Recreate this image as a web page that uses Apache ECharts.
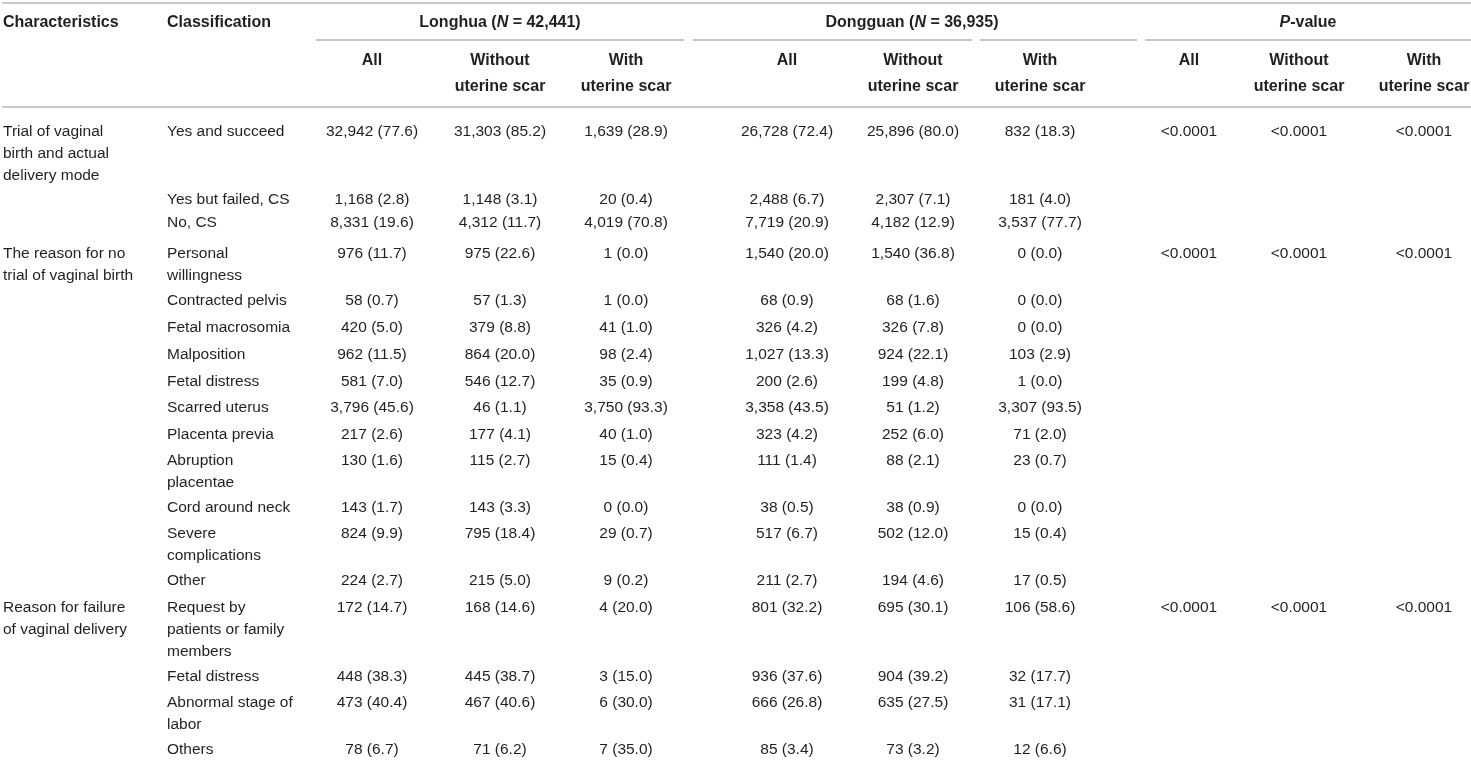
<!DOCTYPE html>
<html>
<head>
<meta charset="utf-8">
<script src="https://cdn.jsdelivr.net/npm/echarts@6/dist/echarts.min.js"></script>
<style>
html,body{margin:0;padding:0;background:#fff;}
#chart{width:1471px;height:760px;}
</style>
</head>
<body>
<div id="chart"></div>
<script>
// ---------- DATA ----------
const columnHeaders = ['Characteristics', 'Classification'];
const groupNames = ['Longhua', 'Dongguan', 'P-value'];
const groupN = ['42,441', '36,935'];
const subHeaders = ['All', 'Without\nuterine scar', 'With\nuterine scar'];

const characteristics = [
  'Trial of vaginal\nbirth and actual\ndelivery mode',
  'The reason for no\ntrial of vaginal birth',
  'Reason for failure\nof vaginal delivery'
];
const characteristicFirstRow = [0, 3, 14];

const classifications = [
  'Yes and succeed', 'Yes but failed, CS', 'No, CS',
  'Personal\nwillingness', 'Contracted pelvis', 'Fetal macrosomia', 'Malposition',
  'Fetal distress', 'Scarred uterus', 'Placenta previa', 'Abruption\nplacentae',
  'Cord around neck', 'Severe\ncomplications', 'Other',
  'Request by\npatients or family\nmembers', 'Fetal distress',
  'Abnormal stage of\nlabor', 'Others'
];

const longhuaAllN = [32942, 1168, 8331, 976, 58, 420, 962, 581, 3796, 217, 130, 143, 824, 224, 172, 448, 473, 78];
const longhuaAllPct = [77.6, 2.8, 19.6, 11.7, 0.7, 5.0, 11.5, 7.0, 45.6, 2.6, 1.6, 1.7, 9.9, 2.7, 14.7, 38.3, 40.4, 6.7];
const longhuaWithoutN = [31303, 1148, 4312, 975, 57, 379, 864, 546, 46, 177, 115, 143, 795, 215, 168, 445, 467, 71];
const longhuaWithoutPct = [85.2, 3.1, 11.7, 22.6, 1.3, 8.8, 20.0, 12.7, 1.1, 4.1, 2.7, 3.3, 18.4, 5.0, 14.6, 38.7, 40.6, 6.2];
const longhuaWithN = [1639, 20, 4019, 1, 1, 41, 98, 35, 3750, 40, 15, 0, 29, 9, 4, 3, 6, 7];
const longhuaWithPct = [28.9, 0.4, 70.8, 0.0, 0.0, 1.0, 2.4, 0.9, 93.3, 1.0, 0.4, 0.0, 0.7, 0.2, 20.0, 15.0, 30.0, 35.0];

const dongguanAllN = [26728, 2488, 7719, 1540, 68, 326, 1027, 200, 3358, 323, 111, 38, 517, 211, 801, 936, 666, 85];
const dongguanAllPct = [72.4, 6.7, 20.9, 20.0, 0.9, 4.2, 13.3, 2.6, 43.5, 4.2, 1.4, 0.5, 6.7, 2.7, 32.2, 37.6, 26.8, 3.4];
const dongguanWithoutN = [25896, 2307, 4182, 1540, 68, 326, 924, 199, 51, 252, 88, 38, 502, 194, 695, 904, 635, 73];
const dongguanWithoutPct = [80.0, 7.1, 12.9, 36.8, 1.6, 7.8, 22.1, 4.8, 1.2, 6.0, 2.1, 0.9, 12.0, 4.6, 30.1, 39.2, 27.5, 3.2];
const dongguanWithN = [832, 181, 3537, 0, 0, 0, 103, 1, 3307, 71, 23, 0, 15, 17, 106, 32, 31, 12];
const dongguanWithPct = [18.3, 4.0, 77.7, 0.0, 0.0, 0.0, 2.9, 0.0, 93.5, 2.0, 0.7, 0.0, 0.4, 0.5, 58.6, 17.7, 17.1, 6.6];

const pValueAll = ['<0.0001', '<0.0001', '<0.0001'];
const pValueWithout = ['<0.0001', '<0.0001', '<0.0001'];
const pValueWith = ['<0.0001', '<0.0001', '<0.0001'];

// ---------- LAYOUT (table units on hidden value axes) ----------
const W = 1471, H = 760;
const leftX = [3, 167];
const colCenterX = [372, 500, 626, 787, 913, 1040, 1189, 1299, 1424];
const groupCenterX = [500, 912, 1308];
const rowCenterY = [130, 198, 221, 252, 299, 326, 353, 380, 406, 433, 459, 506, 532, 579, 606, 675, 701, 748];
const headerRow1Y = 21, headerRow2Y = 59;
const bodyLineH = 22, headerLineH = 26;
const textShift = 2;
const ruleSegments = [
  [2, W, 3], [316, 684, 40], [693, 972, 40], [980, 1137, 40], [1145, W, 40], [2, W, 107]
];
const FONT = '"Liberation Sans", Arial, Helvetica, sans-serif';
const BODY_SIZE = 15.5, HEAD_SIZE = 16;
const TEXT_COLOR = '#231f20';
const RULE_COLOR = '#b4b4b4';

// ---------- BUILD CELLS ----------
function fmtInt(n) { return String(n).replace(/\B(?=(\d{3})+(?!\d))/g, ','); }
function fmtCell(n, p) { return fmtInt(n) + ' (' + p.toFixed(1) + ')'; }

const cells = [];
function addCell(x, yCenter, text, align, bold, lineH, rich) {
  cells.push({ x, y: yCenter, text, align, bold, lineH, rich });
}
// header row 1
addCell(leftX[0], headerRow1Y, columnHeaders[0], 'left', true, headerLineH);
addCell(leftX[1], headerRow1Y, columnHeaders[1], 'left', true, headerLineH);
addCell(groupCenterX[0], headerRow1Y, '{b|' + groupNames[0] + ' (}{bi|N}{b| = ' + groupN[0] + ')}', 'center', true, headerLineH, true);
addCell(groupCenterX[1], headerRow1Y, '{b|' + groupNames[1] + ' (}{bi|N}{b| = ' + groupN[1] + ')}', 'center', true, headerLineH, true);
addCell(groupCenterX[2], headerRow1Y, '{bi|P}{b|' + groupNames[2].slice(1) + '}', 'center', true, headerLineH, true);
// header row 2
for (let g = 0; g < 3; g++) {
  for (let s = 0; s < 3; s++) {
    addCell(colCenterX[g * 3 + s], headerRow2Y, subHeaders[s], 'center', true, headerLineH);
  }
}
// body
characteristics.forEach((c, i) => addCell(leftX[0], rowCenterY[characteristicFirstRow[i]], c, 'left', false, bodyLineH));
classifications.forEach((c, i) => addCell(leftX[1], rowCenterY[i], c, 'left', false, bodyLineH));
const valueCols = [
  [longhuaAllN, longhuaAllPct], [longhuaWithoutN, longhuaWithoutPct], [longhuaWithN, longhuaWithPct],
  [dongguanAllN, dongguanAllPct], [dongguanWithoutN, dongguanWithoutPct], [dongguanWithN, dongguanWithPct]
];
valueCols.forEach((pair, ci) => {
  pair[0].forEach((n, ri) => addCell(colCenterX[ci], rowCenterY[ri], fmtCell(n, pair[1][ri]), 'center', false, bodyLineH));
});
[pValueAll, pValueWithout, pValueWith].forEach((arr, k) => {
  arr.forEach((p, gi) => addCell(colCenterX[6 + k], rowCenterY[characteristicFirstRow[gi]], p, 'center', false, bodyLineH));
});

// ---------- CHART ----------
const chart = echarts.init(document.getElementById('chart'), null, { renderer: 'canvas' });
chart.setOption({
  animation: false,
  backgroundColor: '#ffffff',
  grid: { left: 0, right: 0, top: 0, bottom: 0 },
  xAxis: { type: 'value', min: 0, max: W, show: false },
  yAxis: { type: 'value', min: 0, max: H, inverse: true, show: false },
  series: [
    {
      type: 'custom',
      name: 'rules',
      data: ruleSegments,
      renderItem: function (params, api) {
        const p1 = api.coord([api.value(0), api.value(2)]);
        const p2 = api.coord([api.value(1), api.value(2)]);
        return {
          type: 'line',
          shape: { x1: p1[0], y1: p1[1], x2: p2[0], y2: p2[1] },
          style: { stroke: RULE_COLOR, lineWidth: 1.6 }
        };
      }
    },
    {
      type: 'custom',
      name: 'cells',
      data: cells.map((c, i) => [c.x, c.y, i]),
      renderItem: function (params, api) {
        const c = cells[api.value(2)];
        const pt = api.coord([api.value(0), api.value(1)]);
        const size = c.bold ? HEAD_SIZE : BODY_SIZE;
        const style = {
          text: c.text,
          x: pt[0],
          y: pt[1] - c.lineH / 2 + textShift,
          fill: TEXT_COLOR,
          fontFamily: FONT,
          fontSize: size,
          fontWeight: c.bold ? 'bold' : 'normal',
          align: c.align,
          verticalAlign: 'top',
          lineHeight: c.lineH
        };
        if (c.rich) {
          style.rich = {
            b: { fontFamily: FONT, fontSize: size, fontWeight: 'bold', fill: TEXT_COLOR, lineHeight: c.lineH },
            bi: { fontFamily: FONT, fontSize: size, fontWeight: 'bold', fontStyle: 'italic', fill: TEXT_COLOR, lineHeight: c.lineH }
          };
        }
        return { type: 'text', style: style };
      }
    }
  ]
});
</script>
</body>
</html>
